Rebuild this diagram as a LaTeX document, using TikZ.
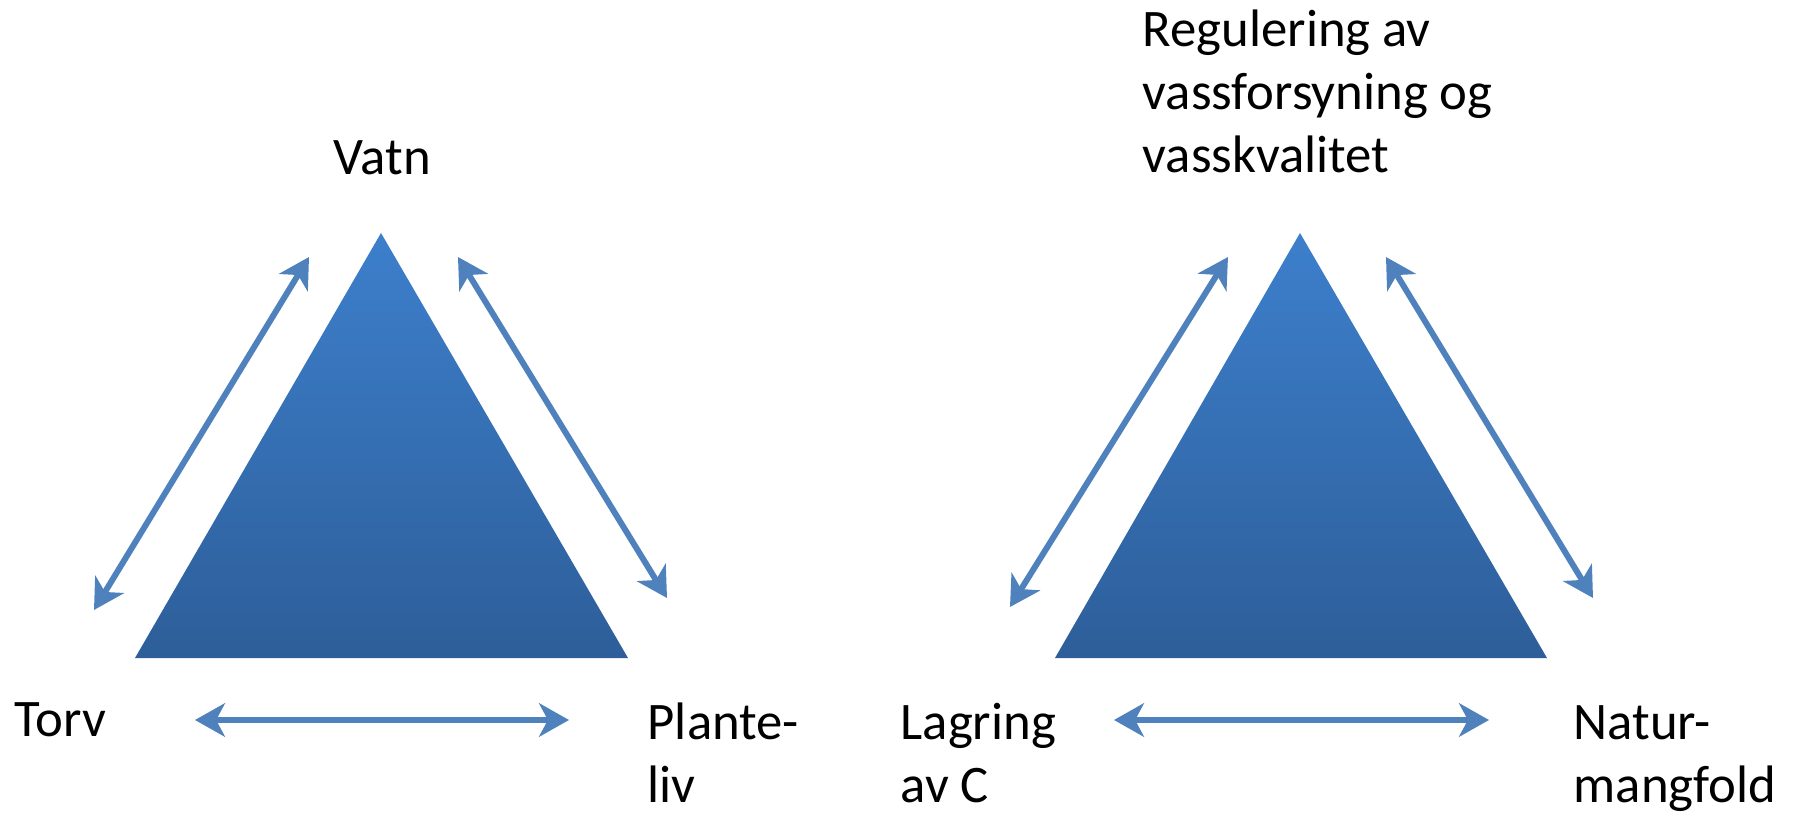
\documentclass[tikz,border=0pt]{standalone}
\usepackage{fontspec}
\setmainfont{Carlito}
\usetikzlibrary{arrows.meta}
\definecolor{arrowblue}{HTML}{4F81BD}
\definecolor{tritop}{HTML}{3D7FCC}
\definecolor{tribot}{HTML}{2D5E99}
\tikzset{
  txt/.style={inner sep=0pt, anchor=base west, align=left, font=\fontsize{15pt}{17.9pt}\selectfont},
  link/.style={arrowblue, line width=1.7pt, {Stealth[length=8.5pt,width=9.5pt,inset=2.5pt]}-{Stealth[length=8.5pt,width=9.5pt,inset=2.5pt]}},
  tri/.style={top color=tritop, bottom color=tribot, draw=none},
}
\begin{document}
\begin{tikzpicture}[x=0.01cm, y=-0.01cm]
			\useasboundingbox (0,0) rectangle (1796,815);
			% triangles
			\shade[tri] (381,233) -- (135,658) -- (628,658) -- cycle;
			\shade[tri] (1300,233) -- (1055,658) -- (1547,658) -- cycle;
			
			% left diagram
			\node[txt] (vatn) at (333,174) {Vatn};
			\node[txt] (torv) at (14,736) {Torv};
			\node[txt] (plante) at (647,802) {Plante-\\liv};
			
			\coordinate (a1) at (309,257);
			\coordinate (a2) at (94,610);
			\coordinate (b1) at (458,257);
			\coordinate (b2) at (667,598);
			\coordinate (c1) at (195,720);
			\coordinate (c2) at (569,720);
			\draw[link] (a1) -- (a2);
			\draw[link] (b1) -- (b2);
			\draw[link] (c1) -- (c2);
			
			% right diagram
			\node[txt] (regulering) at (1142,172) {Regulering av\\vassforsyning og\\vasskvalitet};
			\node[txt] (lagring) at (900,802) {Lagring\\av C};
			\node[txt] (natur) at (1573,802) {Natur-\\mangfold};
			
			\coordinate (d1) at (1228,257);
			\coordinate (d2) at (1010,607);
			\coordinate (e1) at (1386,257);
			\coordinate (e2) at (1593,598);
			\coordinate (f1) at (1114,720);
			\coordinate (f2) at (1489,720);
			\draw[link] (d1) -- (d2);
			\draw[link] (e1) -- (e2);
			\draw[link] (f1) -- (f2);
			
\end{tikzpicture}
\end{document}
